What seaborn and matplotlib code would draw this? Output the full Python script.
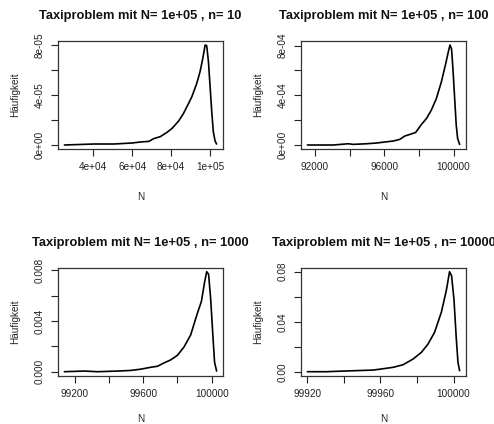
import matplotlib
matplotlib.use("Agg")
import matplotlib.pyplot as plt
import seaborn as sns
import numpy as np

# ---- data (kernel density curves) ----
n10_x = [25200, 40500, 50700, 60000, 64300, 68600, 71100, 74500, 77900, 80500,
         83900, 86400, 89000, 90700, 93200, 94900, 96300, 97500, 98300, 99200,
         100000, 100900, 101700, 102600, 103400]
n10_y = [0.0, 0.8e-6, 0.8e-6, 1.6e-6, 2.4e-6, 2.9e-6, 5.1e-6, 6.7e-6, 1.01e-5, 1.33e-5,
         1.92e-5, 2.53e-5, 3.33e-5, 3.87e-5, 4.93e-5, 5.87e-5, 6.93e-5, 8.0e-5, 7.95e-5, 6.67e-5,
         4.8e-5, 2.67e-5, 1.07e-5, 3.2e-6, 0.8e-6]

n100_x = [91560, 93055, 93920, 94200, 94970, 95550, 96030, 96510, 96890, 97180,
          97470, 97810, 98140, 98430, 98710, 99000, 99290, 99540, 99710, 99790,
          99880, 99960, 100060, 100150, 100230, 100345]
n100_y = [0.0, 0.0, 1.0e-5, 0.5e-5, 1.0e-5, 1.6e-5, 2.4e-5, 3.2e-5, 4.5e-5, 7.2e-5,
          8.5e-5, 1.01e-4, 1.65e-4, 2.13e-4, 2.8e-4, 3.73e-4, 5.07e-4, 6.53e-4, 7.6e-4, 8.05e-4,
          7.73e-4, 6.13e-4, 3.73e-4, 1.6e-4, 5.3e-5, 0.5e-5]

n1000_x = [99138, 99255, 99332, 99449, 99527, 99585, 99644, 99683, 99722, 99760,
           99800, 99838, 99877, 99916, 99940, 99959, 99971, 99982, 99994, 100006,
           100017, 100029]
n1000_y = [0.0, 0.00005, 0.0, 0.00005, 0.0001, 0.0002, 0.00035, 0.00043, 0.0007, 0.00093,
           0.0013, 0.00195, 0.0029, 0.0046, 0.00555, 0.0071, 0.0079, 0.0077, 0.0058, 0.0031,
           0.00075, 0.00005]

n10000_x = [99920, 99930.5, 99939.6, 99956, 99959.6, 99966.9, 99972.4, 99977.8, 99982.4, 99986,
            99989.6, 99993.3, 99996, 99997.8, 99998.9, 100000.2, 100001.5, 100002.4, 100003.3]
n10000_y = [0.0, 0.0, 0.0005, 0.0013, 0.002, 0.0035, 0.0056, 0.0101, 0.0155, 0.0221,
            0.0315, 0.0475, 0.0648, 0.08, 0.0768, 0.0581, 0.0261, 0.0075, 0.0008]

titles = ["Taxiproblem mit N= 1e+05 , n= 10", "Taxiproblem mit N= 1e+05 , n= 100",
          "Taxiproblem mit N= 1e+05 , n= 1000", "Taxiproblem mit N= 1e+05 , n= 10000"]

x_ticks = [[40000, 60000, 80000, 100000],
           [92000, 94000, 96000, 98000, 100000],
           [99200, 99400, 99600, 99800, 100000],
           [99920, 99940, 99960, 99980, 100000]]
x_labels = [["4e+04", "6e+04", "8e+04", "1e+05"],
            ["92000", "", "96000", "", "100000"],
            ["99200", "", "99600", "", "100000"],
            ["99920", "", "99960", "", "100000"]]
y_ticks = [[0, 2e-5, 4e-5, 6e-5, 8e-5],
           [0, 2e-4, 4e-4, 6e-4, 8e-4],
           [0, 0.002, 0.004, 0.006, 0.008],
           [0, 0.02, 0.04, 0.06, 0.08]]
y_labels = [["0e+00", "", "4e-05", "", "8e-05"],
            ["0e+00", "", "4e-04", "", "8e-04"],
            ["0.000", "", "0.004", "", "0.008"],
            ["0.00", "", "0.04", "", "0.08"]]

series = [(n10_x, n10_y), (n100_x, n100_y), (n1000_x, n1000_y), (n10000_x, n10000_y)]

# ---- styling ----
sns.set_style("white")
plt.rcParams['font.family'] = ['Liberation Sans', 'DejaVu Sans']

W, H = 494, 424
fig = plt.figure(figsize=(W / 100, H / 100), dpi=100)

# axes boxes in pixels (left, top, right, bottom)
boxes = [(58.3, 41, 222.7, 149), (301.3, 41, 465.7, 149),
         (58.3, 267.7, 222.7, 375.7), (301.3, 267.7, 465.7, 375.7)]
xlabel_y = [-0.395, -0.395, -0.35, -0.35]

def rlim(v):
    lo, hi = min(v), max(v)
    d = hi - lo
    return lo - 0.04 * d, hi + 0.04 * d

for i, ((xs, ys), box) in enumerate(zip(series, boxes)):
    l, t, r, b = box
    ax = fig.add_axes([l / W, 1 - b / H, (r - l) / W, (b - t) / H])
    sns.lineplot(x=xs, y=ys, ax=ax, color="black", linewidth=1.2,
                 sort=False, estimator=None)
    ax.set_xlim(*rlim(xs))
    ax.set_ylim(*rlim(ys))
    ax.set_xticks(x_ticks[i])
    ax.set_xticklabels(x_labels[i])
    ax.set_yticks(y_ticks[i])
    ax.set_yticklabels(y_labels[i], rotation=90, va="center")
    ax.tick_params(axis="both", direction="out", length=4.8, width=0.8,
                   color="#222222", labelsize=7.2, labelcolor="#222222",
                   bottom=True, left=True)
    ax.tick_params(axis="x", pad=4.8)
    ax.tick_params(axis="y", pad=5.2)
    for sp in ax.spines.values():
        sp.set_visible(True)
        sp.set_color("#333333")
        sp.set_linewidth(0.9)
    ax.set_title(titles[i], fontsize=9.3, fontweight="bold", pad=15.5, color="#111111")
    ax.set_xlabel("N", fontsize=7.2, color="#222222")
    ax.set_ylabel("Häufigkeit", fontsize=7.2, color="#222222")
    ax.xaxis.set_label_coords(0.5, xlabel_y[i])
    ax.yaxis.set_label_coords(-0.233, 0.5)
    ax.grid(False)

fig.savefig("out.png", dpi=100)
